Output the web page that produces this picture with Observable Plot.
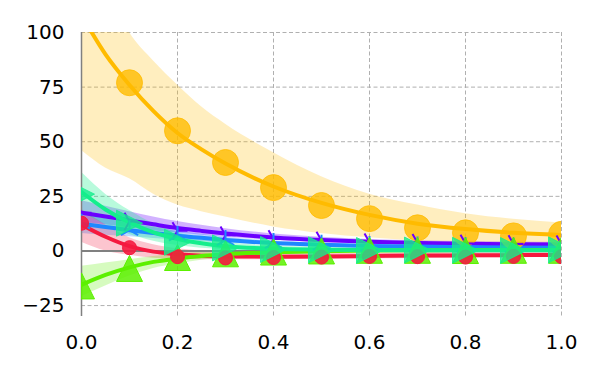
<!DOCTYPE html>
<html>
<head>
<meta charset="utf-8">
<script src="https://cdn.jsdelivr.net/npm/d3@7"></script>
<script src="https://cdn.jsdelivr.net/npm/@observablehq/plot@0.6"></script>
<style>
  html, body { margin: 0; padding: 0; background: white; }
</style>
</head>
<body>
<div id="chart"></div>
<script>
// x positions of the fitted curves / bands
const lineX = [0, 0.05, 0.1, 0.15, 0.2, 0.25, 0.3, 0.4, 0.5, 0.6, 0.7, 0.8, 0.9, 1.0];
// x positions of the markers
const markerX = [0, 0.1, 0.2, 0.3, 0.4, 0.5, 0.6, 0.7, 0.8, 0.9, 1.0];

const xTicks = [0, 0.2, 0.4, 0.6, 0.8, 1.0];
const yTicks = [-25, 0, 25, 50, 75, 100];

// orange series
const orangeLine = [108, 90, 76, 64, 54, 46.5, 40, 29.5, 22, 16.5, 12.5, 10, 8.3, 7.3];
const orangeLow  = [46, 38, 33, 26, 21, 18, 15.5, 11, 8, 6, 4.5, 3.5, 3, 2.5];
const orangeHigh = [150, 122, 100, 87, 76, 66, 58, 45, 34, 26, 21, 17, 14.5, 12.8];
const orangeDots = [108, 77, 55, 40.5, 29, 20.8, 14.8, 10.6, 8.3, 6.9, 7.6];

// red series
const redLine = [12, 6.5, 2.2, -0.3, -1.5, -2.2, -2.5, -2.6, -2.5, -2.3, -2.1, -2, -1.9, -1.8];
const redLow  = [4, 0, -2, -3.3, -3.8, -4, -4, -4, -3.8, -3.6, -3.4, -3.2, -3.1, -3];
const redHigh = [19, 12, 6, 2.8, 1, 0, -0.8, -1.2, -1.2, -1.0, -0.8, -0.7, -0.6, -0.5];
const redDots = [12.7, 1.5, -2.6, -3.2, -3, -2.8, -2.5, -2.6, -2.8, -2.5, -2.6];

// purple series
const purpleLine = [17.5, 15.8, 14, 12.2, 10.5, 9.2, 8, 6.2, 5, 4.2, 3.7, 3.3, 3.1, 3];
const purpleLow  = [13, 12, 10.5, 9.3, 8.2, 7.2, 6.3, 4.9, 3.9, 3.2, 2.7, 2.4, 2.2, 2.1];
const purpleHigh = [23, 20.5, 18, 15.6, 13.5, 11.8, 10.2, 7.8, 6.3, 5.3, 4.7, 4.3, 4.1, 4];
const purpleDots = [17.5, 13.5, 9.2, 7.2, 5.5, 4.8, 4, 3.8, 3.4, 3.2, 3.1];

// blue series
const blueLine = [12.5, 11, 9.5, 8.2, 7, 6, 5, 3.6, 2.8, 2.3, 2, 1.8, 1.6, 1.5];
const blueLow  = [8, 7.2, 6.5, 5.7, 5, 4.3, 3.7, 2.7, 2, 1.6, 1.3, 1.1, 1, 0.9];
const blueHigh = [17, 14.8, 12.5, 10.7, 9, 7.7, 6.3, 4.6, 3.6, 3, 2.7, 2.5, 2.3, 2.2];
const blueDots = [12.5, 9.5, 7, 5, 3.6, 2.8, 2.3, 2, 1.8, 1.6, 1.5];

// spring-green series
const tealLine = [27, 19, 13, 8.5, 5.5, 3.5, 2.2, 1, 0.6, 0.4, 0.3, 0.3, 0.3, 0.3];
const tealLow  = [18, 12, 7.5, 4.5, 2.5, 1.2, 0.5, -0.3, -0.6, -0.7, -0.8, -0.8, -0.8, -0.8];
const tealHigh = [36, 26, 18.5, 12.5, 8.5, 5.8, 4, 2.3, 1.8, 1.5, 1.4, 1.4, 1.4, 1.4];
const tealDots = [26, 12.7, 4, 1.4, 0.7, 0.5, 0.2, 0.4, 0.3, 0.2, 0.5];

// green series
const greenLine = [-15.5, -11, -7.5, -5, -3.5, -2.3, -1.5, -0.6, -0.1, 0.2, 0.3, 0.4, 0.4, 0.4];
const greenLow  = [-21, -16, -11.5, -8, -6, -4.3, -3, -1.8, -1.2, -0.9, -0.7, -0.6, -0.6, -0.6];
const greenHigh = [-7, -5.5, -4, -2.5, -1.5, -0.5, 0, 0.6, 0.9, 1.2, 1.3, 1.4, 1.4, 1.4];
const greenDots = [-16, -8, -3, -1.3, -0.5, 0, 0.3, 0.3, 0.2, 0.3, 0.3];

const C = {
  orange: "#ffbb00",
  red: "#f5193f",
  purple: "#6b00ff",
  blue: "#1e88ff",
  teal: "#14ee8c",
  green: "#5cf000"
};

const curveRows = (line, low, high) => lineX.map((x, i) => ({x, y: line[i], lo: low[i], hi: high[i]}));
const dotRows = (vals) => markerX.map((x, i) => ({x, y: vals[i]}));

const series = [
  {key: "orange", line: orangeLine, low: orangeLow, high: orangeHigh, dots: orangeDots, bandOp: 0.25},
  {key: "purple", line: purpleLine, low: purpleLow, high: purpleHigh, dots: purpleDots, bandOp: 0.3},
  {key: "blue", line: blueLine, low: blueLow, high: blueHigh, dots: blueDots, bandOp: 0.3},
  {key: "red", line: redLine, low: redLow, high: redHigh, dots: redDots, bandOp: 0.25},
  {key: "green", line: greenLine, low: greenLow, high: greenHigh, dots: greenDots, bandOp: 0.25},
  {key: "teal", line: tealLine, low: tealLow, high: tealHigh, dots: tealDots, bandOp: 0.3}
];

// custom symbols (matplotlib-like)
const triUp = {draw(ctx, size) { const r = Math.sqrt(size / Math.PI);
  ctx.moveTo(0, -r); ctx.lineTo(r, r); ctx.lineTo(-r, r); ctx.closePath(); }};
const triRight = {draw(ctx, size) { const r = Math.sqrt(size / Math.PI);
  ctx.moveTo(r, 0); ctx.lineTo(-r, -r); ctx.lineTo(-r, r); ctx.closePath(); }};
const spokesRight = {draw(ctx, size) { const r = Math.sqrt(size / Math.PI);
  ctx.moveTo(0, 0); ctx.lineTo(r, 0);
  ctx.moveTo(0, 0); ctx.lineTo(-0.5 * r, -0.866 * r);
  ctx.moveTo(0, 0); ctx.lineTo(-0.5 * r, 0.866 * r); }};
const spokesUp = {draw(ctx, size) { const r = Math.sqrt(size / Math.PI);
  ctx.moveTo(0, 0); ctx.lineTo(0, -r);
  ctx.moveTo(0, 0); ctx.lineTo(-0.866 * r, 0.5 * r);
  ctx.moveTo(0, 0); ctx.lineTo(0.866 * r, 0.5 * r); }};

const marks = [];
marks.push(Plot.gridX(xTicks, {stroke: "#b0b0b0", strokeOpacity: 1, strokeDasharray: "4,2.5"}));
marks.push(Plot.gridY(yTicks, {stroke: "#b0b0b0", strokeOpacity: 1, strokeDasharray: "4,2.5"}));

for (const s of series) {
  marks.push(Plot.areaY(curveRows(s.line, s.low, s.high), {
    x: "x", y1: "lo", y2: "hi", fill: C[s.key], fillOpacity: s.bandOp, curve: "monotone-x", clip: true
  }));
}
marks.push(Plot.ruleY([0], {stroke: "#808080", strokeWidth: 2}));
marks.push(Plot.ruleX([0], {stroke: "#808080", strokeWidth: 1.5}));

for (const s of series) {
  marks.push(Plot.line(curveRows(s.line, s.low, s.high), {
    x: "x", y: "y", stroke: C[s.key], strokeWidth: 4, curve: "monotone-x", clip: true
  }));
}

// markers
marks.push(Plot.dot(dotRows(orangeDots), {x: "x", y: "y", r: 13, fill: C.orange, fillOpacity: 0.8, stroke: C.orange, strokeOpacity: 0.8, strokeWidth: 1, clip: true}));
marks.push(Plot.dot(dotRows(purpleDots), {x: "x", y: "y", r: 10, symbol: spokesRight, fill: "none", stroke: C.purple, strokeWidth: 2, clip: true}));
marks.push(Plot.dot(dotRows(blueDots), {x: "x", y: "y", r: 10, symbol: spokesUp, fill: "none", stroke: C.blue, strokeWidth: 2, clip: true}));
marks.push(Plot.dot(dotRows(greenDots), {x: "x", y: "y", r: 13, symbol: triUp, fill: C.green, fillOpacity: 0.85, stroke: C.green, strokeWidth: 1, clip: true}));
marks.push(Plot.dot(dotRows(redDots), {x: "x", y: "y", r: 7, fill: C.red, fillOpacity: 0.9, stroke: C.red, strokeWidth: 1, clip: true}));
marks.push(Plot.dot(dotRows(tealDots), {x: "x", y: "y", r: 13, symbol: triRight, fill: C.teal, fillOpacity: 0.8, stroke: C.teal, strokeOpacity: 0.8, strokeWidth: 1, clip: true}));

marks.push(Plot.axisX({ticks: xTicks, tickSize: 0, tickPadding: 18, tickFormat: d3.format(".1f"), label: null}));
marks.push(Plot.axisY({ticks: yTicks, tickSize: 0, tickPadding: 17, tickFormat: d3.format("d"), label: null}));

const chart = Plot.plot({
  width: 600,
  height: 375,
  marginLeft: 81,
  marginRight: 39,
  marginTop: 32,
  marginBottom: 59,
  x: {domain: [0, 1]},
  y: {domain: [-30, 100]},
  style: {fontFamily: "'DejaVu Sans', sans-serif", fontSize: "20px", background: "white", color: "black"},
  marks
});
document.getElementById("chart").appendChild(chart);
</script>
</body>
</html>
